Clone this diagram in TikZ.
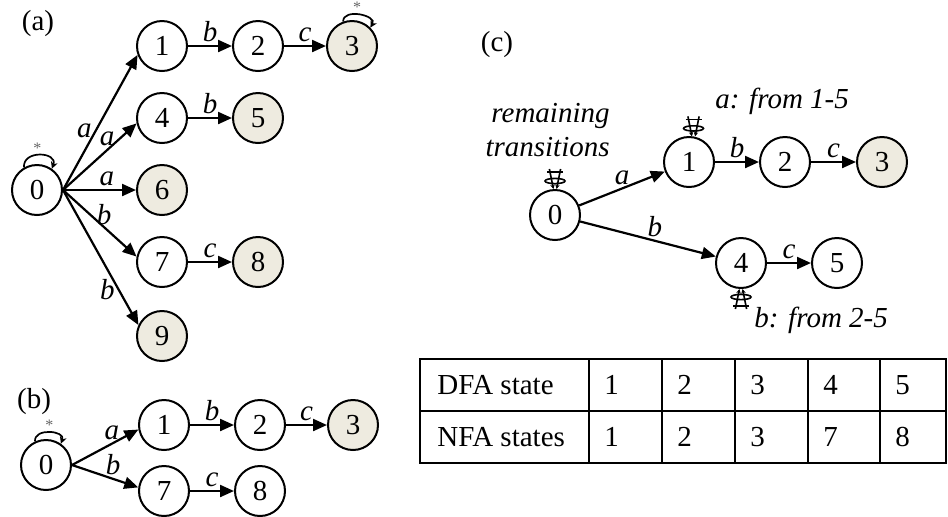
\documentclass[tikz,border=0pt]{standalone}
\usepackage{fontspec}
\setmainfont{Liberation Serif}
\usetikzlibrary{arrows.meta}
\definecolor{accfill}{RGB}{238,235,224}
\tikzset{
	state/.style={circle,draw,line width=1pt,minimum size=25pt,inner sep=0pt,font=\fontsize{14.5}{17}\selectfont},
	acc/.style={state,fill=accfill},
	trans/.style={-{Triangle[length=7pt,width=6pt]},line width=1.1pt},
	lbl/.style={font=\fontsize{14.5}{17}\selectfont\itshape,inner sep=1.5pt},
	cell/.style={font=\fontsize{14.5}{17}\selectfont,inner sep=0pt,anchor=west},
	star/.style={font=\fontsize{8}{8}\selectfont,text=black!60,inner sep=0.3pt},
	looparr/.style={-{Stealth[length=3.5pt,width=3.5pt]},line width=0.85pt},
	restmark/.pic={
		\draw[line width=0.8pt] (-4pt,8.5pt) -- (4pt,8.5pt);
		\draw[line width=0.8pt] (0,4pt) ellipse (5pt and 1.3pt);
		\draw[line width=0.8pt,-{Stealth[length=2.2pt,width=2.2pt]}] (-2.8pt,10pt) -- (-0.8pt,0pt);
		\draw[line width=0.8pt,-{Stealth[length=2.2pt,width=2.2pt]}] (2.8pt,10pt) -- (0.8pt,0pt);
	}
}
\begin{document}
\begin{tikzpicture}[x=0.5pt,y=-0.5pt]
	\useasboundingbox (0,0) rectangle (948,516);
	% (a) NFA
	\node[font=\fontsize{14.5}{17}\selectfont] (tagA) at (38,24) {(a)};
	\node[state] (a0) at (37,190) {0};
	\node[state] (a1) at (162,46) {1};
	\node[state] (a2) at (258,46) {2};
	\node[acc] (a3) at (352,46) {3};
	\node[state] (a4) at (162,118) {4};
	\node[acc] (a5) at (258,118) {5};
	\node[acc] (a6) at (162,190) {6};
	\node[state] (a7) at (162,262) {7};
	\node[acc] (a8) at (258,262) {8};
	\node[acc] (a9) at (162,336) {9};
	\draw[trans] (a0.east) -- (a1.200) node[lbl,pos=0.44,left] {a};
	\draw[trans] (a0.east) -- (a4.192) node[lbl,pos=0.6,above] {a};
	\draw[trans] (a0.east) -- (a6.west) node[lbl,pos=0.6,above] {a};
	\draw[trans] (a0.east) -- (a7.168) node[lbl,pos=0.56,above=-1pt] {b};
	\draw[trans] (a0.east) -- (a9.155) node[lbl,pos=0.74,left] {b};
	\draw[trans] (a1) -- (a2) node[lbl,midway,above] {b};
	\draw[trans] (a2) -- (a3) node[lbl,midway,above] {c};
	\draw[trans] (a4) -- (a5) node[lbl,midway,above] {b};
	\draw[trans] (a7) -- (a8) node[lbl,midway,above] {c};
	\draw[looparr] (a0.120) .. controls +(95:9pt) and +(70:9pt) .. (a0.55) node[star,pos=0.45,above] {*};
	\draw[looparr] (a3.110) .. controls +(90:7pt) and +(60:7pt) .. (a3.45) node[star,pos=0.45,above] {*};
	% (b) DFA
	\node[font=\fontsize{14.5}{17}\selectfont] (tagB) at (34,402) {(b)};
	\node[state] (b0) at (46,465) {0};
	\node[state] (b1) at (164,425) {1};
	\node[state] (b2) at (260,425) {2};
	\node[acc] (b3) at (353,425) {3};
	\node[state] (b7) at (164,491) {7};
	\node[state] (b8) at (260,491) {8};
	\draw[trans] (b0.east) -- (b1.190) node[lbl,pos=0.6,above] {a};
	\draw[trans] (b0.east) -- (b7.172) node[lbl,pos=0.62,above] {b};
	\draw[trans] (b1) -- (b2) node[lbl,midway,above] {b};
	\draw[trans] (b2) -- (b3) node[lbl,midway,above] {c};
	\draw[trans] (b7) -- (b8) node[lbl,midway,above] {c};
	\draw[looparr] (b0.115) .. controls +(95:7pt) and +(70:7pt) .. (b0.55) node[star,pos=0.5,above] {*};
	% (c) compressed DFA
	\node[font=\fontsize{14.5}{17}\selectfont] (tagC) at (497,45) {(c)};
	\node[state] (c0) at (555,215) {0};
	\node[state] (c1) at (689,162) {1};
	\node[state] (c2) at (785,162) {2};
	\node[acc] (c3) at (882,162) {3};
	\node[state] (c4) at (741,263) {4};
	\node[state] (c5) at (837,263) {5};
	\draw[trans] (c0) -- (c1) node[lbl,midway,above] {a};
	\draw[trans] (c0) -- (c4) node[lbl,pos=0.55,above] {b};
	\draw[trans] (c1) -- (c2) node[lbl,midway,above] {b};
	\draw[trans] (c2) -- (c3) node[lbl,midway,above] {c};
	\draw[trans] (c4) -- (c5) node[lbl,midway,above] {c};
	\node[lbl,align=right,anchor=east] (rest) at (613,130) {remaining\\transitions};
	\node[lbl,anchor=west] (fromA) at (712,101) {a: from 1-5};
	\node[lbl,anchor=west] (fromB) at (751,320) {b: from 2-5};
	\pic at (c0.north) {restmark};
	\pic at (c1.80) {restmark};
	\pic[rotate=180] at (c4.south) {restmark};
	% state table
	\draw[line width=1pt] (420,359) rectangle (946,463);
	\draw[line width=1pt] (420,411) -- (946,411);
	\node[cell] (dfa) at (437,385) {DFA state};
	\node[cell] (nfa) at (437,437) {NFA states};
	\foreach \x/\d/\n in {589/1/1,662/2/2,735/3/3,808/4/7,880/5/8} {
		\draw[line width=1pt] (\x,359) -- (\x,463);
		\node[cell] at (\x+15,385) {\d};
		\node[cell] at (\x+15,437) {\n};
	}
\end{tikzpicture}
\end{document}
